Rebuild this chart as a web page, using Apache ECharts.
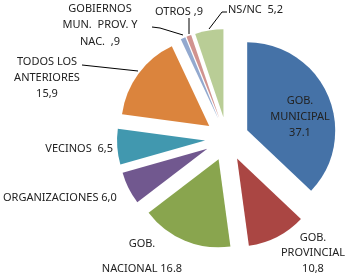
<!DOCTYPE html>
<html>
<head>
<meta charset="utf-8">
<script src="https://cdn.jsdelivr.net/npm/echarts@6/dist/echarts.min.js"></script>
<style>
  html, body { margin: 0; padding: 0; background: #fff; }
  #chart { width: 348px; height: 280px; }
</style>
</head>
<body>
<div id="chart"></div>
<script>
// datos
var categorias = ['GOB. MUNICIPAL', 'GOB. PROVINCIAL', 'GOB. NACIONAL', 'ORGANIZACIONES', 'VECINOS',
  'TODOS LOS ANTERIORES', 'GOBIERNOS MUN. PROV. Y NAC.', 'OTROS', 'NS/NC'];
var valores = [37.1, 10.8, 16.8, 6.0, 6.5, 15.9, 0.9, 0.9, 5.2];
var etiquetas = ['GOB.\nMUNICIPAL\n37.1', 'GOB.\nPROVINCIAL\n10,8', 'GOB.\nNACIONAL 16.8', 'ORGANIZACIONES 6,0',
  'VECINOS  6,5', 'TODOS LOS\nANTERIORES\n15,9', 'GOBIERNOS\nMUN.  PROV. Y\nNAC.  ,9', 'OTROS ,9', 'NS/NC  5,2'];

var colores = ['#4572A7', '#AA4643', '#89A54E', '#71588F', '#4198AF', '#DB843D', '#93A9CF', '#D1938F', '#B9CD96'];

// donde va cada etiqueta (a ojo)
var posEtiq = [
  {x: 300, y: 117, align: 'center', lh: 16},
  {x: 313, y: 253, align: 'center', lh: 15.5},
  {x: 142, y: 256, align: 'center', lh: 25},
  {x: 3, y: 198, align: 'left', lh: 16},
  {x: 113, y: 149, align: 'right', lh: 16},
  {x: 47, y: 78, align: 'center', lh: 16},
  {x: 100, y: 25, align: 'center', lh: 16.5},
  {x: 155, y: 12, align: 'left', lh: 16},
  {x: 228, y: 10, align: 'left', lh: 16}
];
var lineas = {
  5: [[82, 65], [110, 68], [138, 71]],
  6: [[152, 27], [160, 28], [183, 35]],
  7: [[189, 18], [189, 26], [189, 34]],
  8: [[227, 12], [222, 12], [209, 29]]
};

var datos = [];
valores.forEach(function(v, i){
  datos.push({
    name: categorias[i],
    value: v,
    selected: true,
    itemStyle: {color: colores[i]}
  });
});

// etiquetas y lineas guia (encima del pie)
var graficos = [];
etiquetas.forEach(function(t, i){
  var pe = posEtiq[i];
  graficos.push({
    type: 'text',
    x: pe.x,
    y: pe.y,
    z: 100,
    silent: true,
    style: {
      text: t,
      fill: '#222',
      font: '11px "Noto Sans"',
      align: pe.align,
      verticalAlign: 'middle',
      lineHeight: pe.lh
    }
  });
  if (lineas[i]) {
    graficos.push({
      type: 'polyline',
      z: 100,
      silent: true,
      shape: {points: lineas[i]},
      style: {stroke: '#000', lineWidth: 1, fill: null}
    });
  }
});

var myChart = echarts.init(document.getElementById('chart'));
var option = {
  animation: false,
  graphic: graficos,
  series: [{
    type: 'pie',
    center: [227, 139],
    radius: 88,
    startAngle: 90,
    clockwise: true,
    selectedMode: 'multiple',
    selectedOffset: 22,
    emphasis: {disabled: true},
    itemStyle: {borderWidth: 0},
    label: {show: false},
    labelLine: {show: false},
    data: datos
  }]
};
myChart.setOption(option);
</script>
</body>
</html>
